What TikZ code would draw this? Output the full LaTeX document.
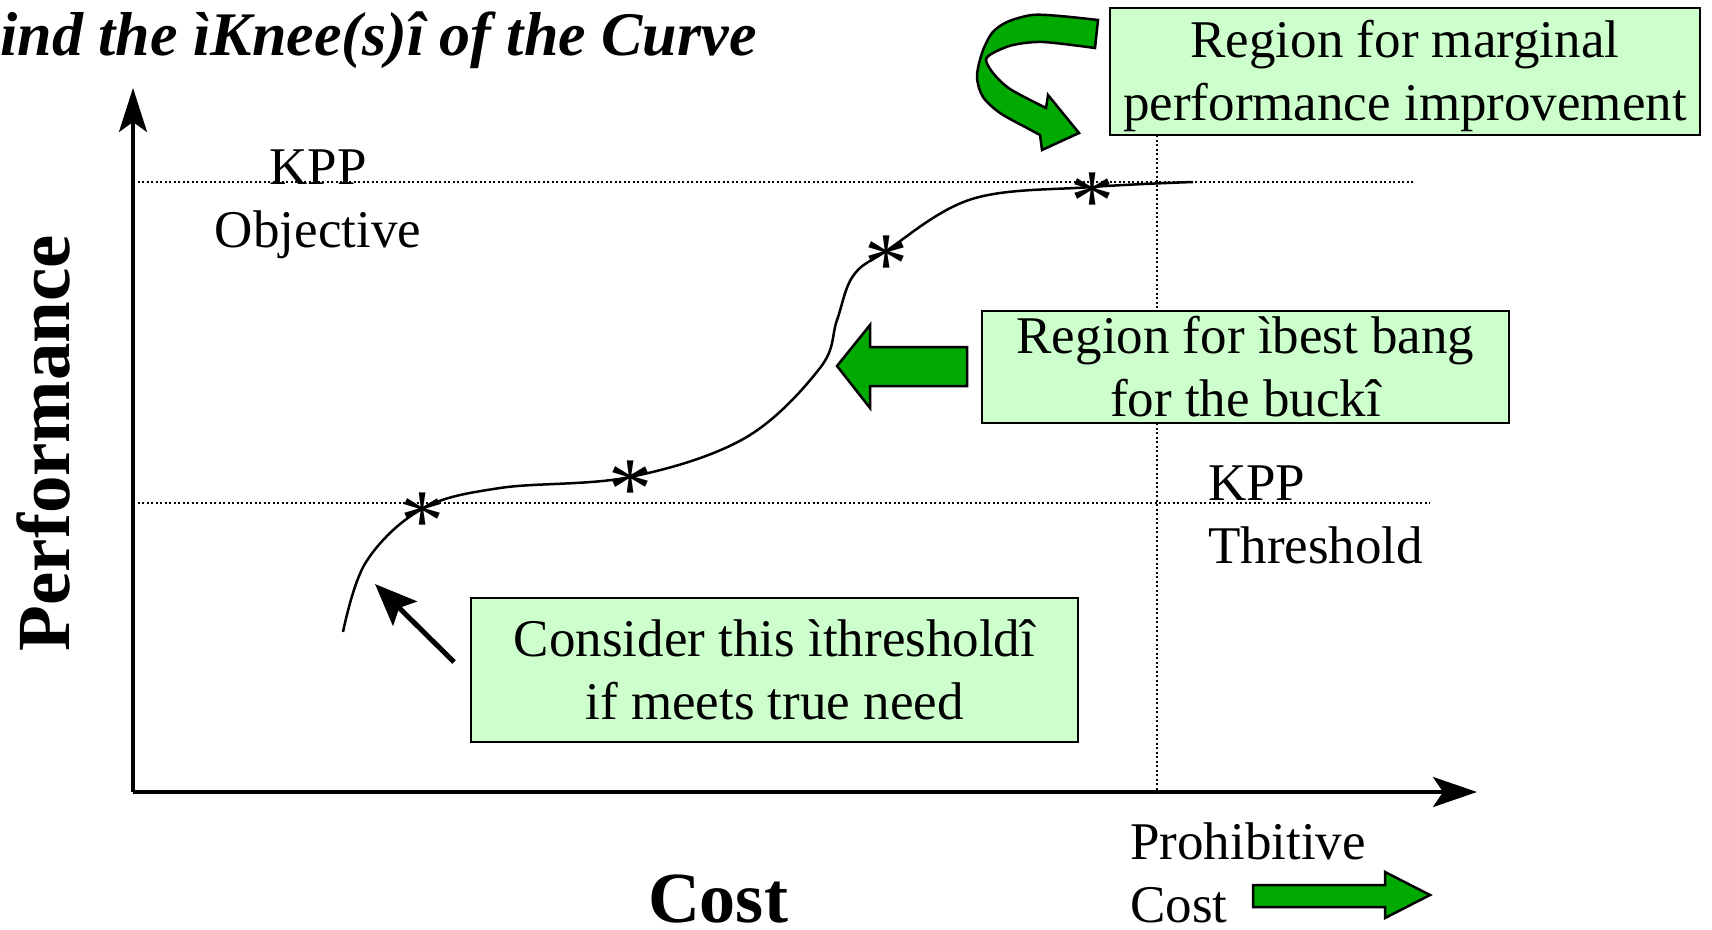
\documentclass[tikz,border=0pt]{standalone}
\usepackage{fontspec}
\setmainfont{Liberation Serif}
\usetikzlibrary{arrows.meta}

\definecolor{boxgreen}{RGB}{204,255,204}
\definecolor{arrgreen}{RGB}{0,170,0}

\begin{document}
\begin{tikzpicture}[x=1pt, y=-1pt,
    txt/.style={font=\fontsize{53}{63}\selectfont, inner sep=0pt},
    greenbox/.style={txt, draw=black, line width=2.5pt, fill=boxgreen, align=center},
    guide/.style={line width=2pt, dash pattern=on 2pt off 2.5pt},
    ast/.style={font=\fontsize{88}{88}\selectfont, inner sep=0pt, anchor=base, yshift=-41pt},
    fatarrow/.style={draw=black, line width=2.5pt, fill=arrgreen, line join=miter}]
    \useasboundingbox (0,0) rectangle (1712,929);

    % axes
    \coordinate (o) at (133,792);
    \coordinate (ytop) at (133,88);
    \coordinate (xend) at (1477,792);
    \draw[line width=3.5pt, -{Stealth[length=44pt,width=28pt,inset=10pt]}] (o) -- (ytop);
    \draw[line width=3.5pt, -{Stealth[length=44pt,width=30pt,inset=10pt]}] (o) -- (xend);

    % objective, threshold and cost guides
    \draw[guide] (133,182) -- (1414,182);
    \draw[guide] (133,503) -- (1430,503);
    \draw[guide] (1157,135) -- (1157,792);

    % the curve
    \draw[line width=2.5pt] plot[smooth, tension=0.6] coordinates {(343,632) (366,562) (422,509)
        (500,488) (630,477) (745,438) (820,368) (837,320) (853,276) (886,251) (972,199)
        (1092,187) (1193,182)};
    \node[ast] (s1) at (422,509) {*};
    \node[ast] (s2) at (630,477) {*};
    \node[ast] (s3) at (886,252) {*};
    \node[ast] (s4) at (1092,189) {*};

    % boxes
    \node[greenbox, minimum width=590pt, minimum height=127pt] (marg) at (1405,71.5)
        {\rule{0pt}{47pt}Region for marginal\\performance improvement};
    \node[greenbox, minimum width=527pt, minimum height=112pt] (bang) at (1245.5,367)
        {Region for ìbest bang\\for the buckî};
    \node[greenbox, minimum width=607pt, minimum height=144pt] (cons) at (774.5,670)
        {Consider this ìthresholdî\\if meets true need};

    % labels
    \node[txt, align=center, anchor=base] (obj) at (318,247) {KPP\\Objective};
    \node[txt, align=left, anchor=base west] (thr) at (1208,563) {KPP\\Threshold};
    \node[txt, align=left, anchor=base west] (proh) at (1130,922) {Prohibitive\\Cost};
    \node[font=\fontsize{75}{75}\selectfont\bfseries, inner sep=0pt, rotate=90, anchor=base]
        (perf) at (69,443) {Performance};
    \node[font=\fontsize{72}{72}\selectfont\bfseries, inner sep=0pt, anchor=base]
        (cost) at (718,922) {Cost};
    \node[font=\fontsize{62}{62}\selectfont\bfseries\itshape, inner sep=0pt, anchor=base west]
        (title) at (-41,55) {Find the ìKnee(s)î of the Curve};

    % green arrows
    \filldraw[fatarrow] (837,366) -- (870,325) -- (870,347) -- (967,347) -- (967,386)
        -- (870,386) -- (870,408) -- cycle;
    \filldraw[fatarrow] (1253,885) -- (1385,885) -- (1385,872) -- (1430,895) -- (1385,918)
        -- (1385,907) -- (1253,907) -- cycle;
    \filldraw[fatarrow] plot[smooth] coordinates {(1098,20) (1060,16) (1032,15) (1007,22)
        (992,33) (982,53) (977,77) (983,97) (1000,113) (1027,128) (1040,135)}
        -- (1042,150) -- (1079,133) -- (1048,95) -- (1046,108)
        -- plot[smooth] coordinates {(1046,108) (1010,89) (993,73) (986,60) (993,53)
        (1013,45) (1043,42) (1095,48)} -- cycle;

    % pointer to the threshold
    \coordinate (ptail) at (454,662);
    \coordinate (ptip) at (375,584);
    \draw[line width=5pt, -{Stealth[length=42pt,width=34pt,inset=8pt]}] (ptail) -- (ptip);
\end{tikzpicture}
\end{document}
